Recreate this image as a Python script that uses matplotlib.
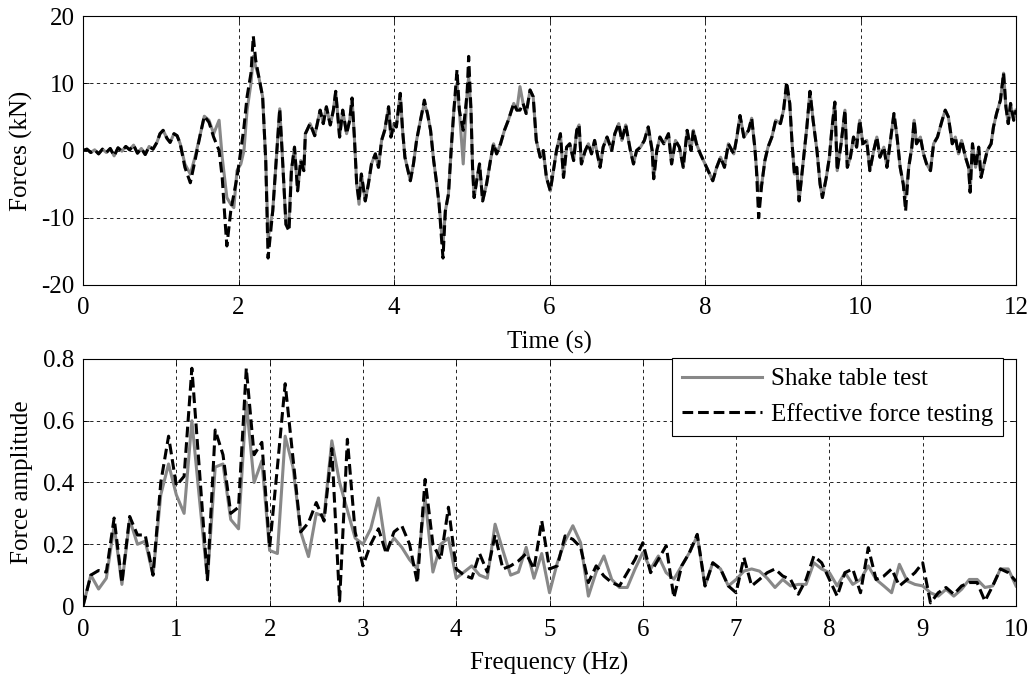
import numpy as np
import matplotlib
matplotlib.use('Agg')
import matplotlib.pyplot as plt

# time history (s, kN)
t_top = [0.00, 0.05, 0.10, 0.15, 0.20, 0.25, 0.30, 0.35, 0.40, 0.45, 0.50, 0.55, 0.60, 0.65, 0.70, 0.75, 0.80, 0.85, 0.90, 0.95,
         0.99, 1.03, 1.08, 1.12, 1.17, 1.21, 1.25, 1.31, 1.38, 1.44, 1.51, 1.56, 1.62, 1.68, 1.75, 1.79, 1.83, 1.85, 1.90, 1.94,
         1.98, 2.03, 2.07, 2.11, 2.16, 2.19, 2.22, 2.26, 2.31, 2.35, 2.38, 2.44, 2.50, 2.53, 2.56, 2.61, 2.65, 2.68, 2.72, 2.76,
         2.80, 2.84, 2.86, 2.92, 2.98, 3.05, 3.09, 3.13, 3.18, 3.22, 3.25, 3.30, 3.34, 3.39, 3.43, 3.46, 3.49, 3.52, 3.55, 3.58,
         3.63, 3.67, 3.71, 3.76, 3.80, 3.84, 3.88, 3.93, 3.96, 4.00, 4.03, 4.08, 4.11, 4.14, 4.17, 4.21, 4.25, 4.29, 4.34, 4.39,
         4.43, 4.47, 4.51, 4.55, 4.58, 4.61, 4.63, 4.66, 4.70, 4.74, 4.77, 4.81, 4.84, 4.89, 4.94, 4.96, 4.99, 5.01, 5.03, 5.07,
         5.10, 5.14, 5.19, 5.24, 5.28, 5.32, 5.37, 5.42, 5.47, 5.54, 5.58, 5.62, 5.66, 5.70, 5.75, 5.79, 5.83, 5.88, 5.92, 5.96,
         6.01, 6.05, 6.09, 6.14, 6.18, 6.22, 6.26, 6.31, 6.35, 6.38, 6.41, 6.46, 6.50, 6.54, 6.58, 6.65, 6.69, 6.74, 6.80, 6.84,
         6.89, 6.93, 6.98, 7.04, 7.08, 7.12, 7.17, 7.22, 7.27, 7.32, 7.34, 7.38, 7.42, 7.47, 7.53, 7.57, 7.62, 7.67, 7.72, 7.77,
         7.82, 7.85, 7.89, 7.94, 8.00, 8.04, 8.10, 8.15, 8.20, 8.25, 8.30, 8.37, 8.41, 8.45, 8.50, 8.56, 8.60, 8.64, 8.66, 8.69,
         8.73, 8.77, 8.81, 8.86, 8.91, 8.97, 9.01, 9.05, 9.09, 9.12, 9.15, 9.18, 9.21, 9.26, 9.31, 9.35, 9.39, 9.44, 9.48, 9.51,
         9.56, 9.60, 9.63, 9.67, 9.70, 9.75, 9.80, 9.83, 9.87, 9.91, 9.95, 9.99, 10.03, 10.08, 10.12, 10.17, 10.21, 10.25, 10.30, 10.34,
         10.38, 10.43, 10.47, 10.51, 10.55, 10.58, 10.62, 10.66, 10.69, 10.72, 10.77, 10.81, 10.85, 10.90, 10.94, 10.99, 11.05, 11.09, 11.13, 11.18,
         11.22, 11.26, 11.30, 11.35, 11.39, 11.41, 11.44, 11.48, 11.52, 11.55, 11.59, 11.63, 11.68, 11.71, 11.75, 11.80, 11.84, 11.87, 11.90, 11.93,
         11.97, 12.00]

f_eft = [0.0, 0.2, -0.3, 0.1, -0.5, 0.2, -0.3, 0.3, -0.8, 0.4, -0.1, 0.6, 0.1, 0.8, -0.4, 0.3, -0.6, 0.6, 0.2, 1.2,
         2.5, 3.0, 1.8, 1.2, 2.5, 2.2, 1.0, -2.5, -4.8, -1.5, 2.5, 5.1, 4.2, 2.0, 0.0, -4.0, -11.0, -14.2, -9.0, -6.5,
         -4.0, 0.0, 3.5, 8.0, 11.5, 17.0, 13.5, 11.0, 8.0, -1.5, -16.0, -9.0, 1.0, 6.2, 0.0, -11.0, -12.0, -3.0, 0.5, -6.0,
         -1.5, -3.0, 2.5, 4.0, 2.2, 6.0, 4.0, 6.5, 3.8, 6.0, 8.8, 2.0, 6.0, 2.5, 4.5, 7.8, 2.0, -5.0, -7.5, -3.5,
         -7.5, -5.0, -2.0, -0.5, -2.5, 1.5, 3.0, 6.5, 2.0, 4.0, 3.5, 8.5, 3.0, -1.0, -2.5, -4.5, -2.0, 1.5, 4.5, 7.5,
         5.5, 3.0, -1.5, -5.0, -8.0, -13.0, -16.0, -9.0, -6.5, 1.0, 6.0, 12.0, 6.0, 3.0, 8.5, 14.0, 6.0, -2.5, -7.0, -4.0,
         -2.0, -7.5, -5.0, -1.5, 1.0, -0.5, 1.0, 3.0, 4.5, 7.0, 6.0, 6.0, 7.0, 5.5, 9.0, 8.0, 1.5, -1.0, 0.0, -4.0,
         -6.0, -3.0, 0.0, 2.5, -4.0, 0.5, 1.0, -1.5, 3.0, 3.8, -2.0, 0.0, 1.0, -0.5, 1.5, -2.5, 0.5, 2.0, 0.0, 2.5,
         4.0, 1.5, 3.8, 0.0, -2.0, 0.0, 0.5, 1.5, 3.5, 0.0, -4.2, 0.0, 2.0, 1.0, 2.5, -2.0, 1.5, 0.5, -2.5, 3.0,
         0.0, 3.0, 1.0, -0.5, -2.0, -3.0, -4.5, -2.5, -1.0, -2.5, 1.0, -0.5, 2.0, 5.2, 2.0, 3.0, 4.8, 0.5, -2.5, -10.0,
         -5.0, -1.5, 0.5, 2.0, 4.5, 4.0, 6.0, 10.2, 7.0, 1.0, -3.5, -2.5, -7.5, -2.0, 3.5, 8.8, 4.5, 0.0, -5.0, -7.0,
         -4.0, -1.0, 3.0, 7.2, -3.0, 1.0, 6.0, -2.5, -1.0, 2.0, 0.5, 4.5, 1.0, 1.5, -3.0, 0.0, 2.0, -1.0, 0.5, -2.5,
         1.0, 5.5, 2.0, -2.5, -5.0, -9.0, -2.5, 0.5, 4.5, 1.0, 2.0, -0.5, -2.0, -3.0, 1.0, 2.0, 4.5, 6.0, 5.0, 1.0,
         2.0, -0.5, 1.5, -1.0, -2.5, -6.2, 1.0, -2.5, 0.5, -4.0, -2.0, 0.0, 1.0, 3.5, 5.5, 7.5, 11.5, 6.5, 4.0, 7.0,
         4.5, 6.0]

f_stt = [0.0, 0.2, -0.3, 0.1, -0.5, 0.2, -0.3, 0.3, -0.8, 0.4, -0.1, 0.6, 0.1, 0.8, -0.4, 0.3, -0.6, 0.6, 0.2, 1.2,
         2.5, 3.0, 1.8, 1.2, 2.5, 2.2, 1.0, -2.0, -3.5, -1.0, 2.5, 5.1, 4.5, 2.5, 4.5, -1.0, -5.0, -7.0, -8.0, -8.5,
         -3.0, -2.0, 0.0, 6.0, 10.0, 14.0, 12.5, 11.0, 8.0, -1.5, -13.0, -9.0, 1.0, 6.2, 0.0, -11.0, -10.0, -3.0, 0.5, -6.0,
         -1.5, -3.0, 2.5, 4.0, 2.2, 6.0, 4.0, 6.5, 3.8, 6.0, 8.8, 2.0, 6.0, 2.5, 4.5, 7.8, 2.0, -5.0, -8.0, -3.5,
         -7.5, -5.0, -2.0, -0.5, -2.5, 1.5, 3.0, 6.5, 2.0, 4.0, 3.5, 8.5, 3.0, -1.0, -2.5, -4.5, -2.0, 1.5, 4.5, 7.0,
         5.5, 3.0, -1.5, -5.0, -8.0, -12.0, -14.0, -9.0, -6.5, 1.0, 6.0, 10.0, 6.0, -2.0, 8.5, 11.0, 6.0, -2.5, -7.0, -4.0,
         -2.0, -7.5, -5.0, -1.5, 1.0, -0.5, 1.0, 3.0, 4.5, 7.0, 6.0, 9.5, 7.0, 5.5, 9.0, 8.0, 1.5, -1.0, 0.0, -4.0,
         -6.0, -3.0, 0.0, 2.5, -4.0, 0.5, 1.0, -1.5, 3.0, 3.8, -2.0, 0.0, 1.0, -0.5, 1.5, -2.5, 0.5, 2.0, 0.0, 2.5,
         4.0, 1.5, 3.8, 0.0, -2.0, 0.0, 0.5, 1.5, 3.5, 0.0, -4.2, 0.0, 2.0, 1.0, 2.5, -2.0, 1.5, 0.5, -2.5, 3.0,
         0.0, 3.0, 1.0, -0.5, -2.0, -3.0, -4.5, -2.5, -1.0, -2.5, 1.0, -0.5, 2.0, 5.2, 2.0, 3.0, 4.8, 0.5, -2.5, -6.0,
         -5.0, -1.5, 0.5, 2.0, 4.5, 4.0, 6.0, 9.5, 7.0, 1.0, -3.5, -2.5, -7.5, -2.0, 3.5, 8.8, 4.5, 0.0, -5.0, -7.0,
         -4.0, -1.0, 3.0, 7.2, -3.0, 1.0, 6.0, -2.5, -1.0, 2.0, 0.5, 4.5, 1.0, 1.5, -3.0, 0.0, 2.0, -1.0, 0.5, -2.5,
         1.0, 5.5, 2.0, -2.5, -5.0, -7.0, -2.5, 0.5, 4.5, 1.0, 2.0, -0.5, -2.0, -3.0, 1.0, 2.0, 4.5, 6.0, 5.0, 1.0,
         2.0, -0.5, 1.5, -1.0, -2.5, -6.2, 1.0, -2.5, 0.5, -4.0, -2.0, 0.0, 1.0, 3.5, 5.5, 7.5, 11.5, 6.5, 4.0, 7.0,
         4.5, 6.0]

# Fourier amplitude spectrum, 1/12 Hz resolution
freq = np.arange(121) / 12.0
amp_eft = [0.00, 0.10, 0.115, 0.11, 0.285, 0.075, 0.29, 0.23, 0.23, 0.10,
           0.40, 0.55, 0.39, 0.42, 0.77, 0.43, 0.085, 0.57, 0.49, 0.30,
           0.32, 0.77, 0.49, 0.53, 0.19, 0.45, 0.72, 0.48, 0.24, 0.27,
           0.335, 0.275, 0.51, 0.016, 0.54, 0.24, 0.13, 0.20, 0.25, 0.17,
           0.24, 0.26, 0.20, 0.075, 0.41, 0.20, 0.15, 0.32, 0.12, 0.10,
           0.09, 0.17, 0.11, 0.23, 0.12, 0.13, 0.146, 0.17, 0.12, 0.276,
           0.12, 0.13, 0.227, 0.216, 0.19, 0.076, 0.13, 0.097, 0.076, 0.065,
           0.108, 0.151, 0.205, 0.108, 0.151, 0.195, 0.027, 0.13, 0.173, 0.232,
           0.065, 0.14, 0.12, 0.065, 0.043, 0.157, 0.065, 0.086, 0.108, 0.12,
           0.097, 0.086, 0.038, 0.086, 0.162, 0.14, 0.086, 0.032, 0.108, 0.12,
           0.043, 0.189, 0.086, 0.097, 0.12, 0.065, 0.086, 0.108, 0.14, 0.01,
           0.043, 0.06, 0.038, 0.065, 0.076, 0.076, 0.016, 0.065, 0.12, 0.108,
           0.08]
amp_stt = [0.00, 0.10, 0.055, 0.09, 0.26, 0.07, 0.28, 0.20, 0.21, 0.10,
           0.36, 0.46, 0.36, 0.30, 0.60, 0.34, 0.085, 0.45, 0.46, 0.28,
           0.25, 0.66, 0.40, 0.47, 0.18, 0.17, 0.55, 0.45, 0.24, 0.16,
           0.30, 0.29, 0.535, 0.40, 0.31, 0.22, 0.20, 0.25, 0.35, 0.18,
           0.22, 0.19, 0.15, 0.12, 0.35, 0.11, 0.20, 0.22, 0.09, 0.11,
           0.13, 0.10, 0.09, 0.265, 0.18, 0.10, 0.11, 0.19, 0.09, 0.17,
           0.043, 0.14, 0.21, 0.26, 0.205, 0.032, 0.11, 0.162, 0.086, 0.06,
           0.06, 0.12, 0.173, 0.12, 0.162, 0.108, 0.087, 0.13, 0.173, 0.227,
           0.065, 0.14, 0.12, 0.065, 0.086, 0.113, 0.12, 0.113, 0.09, 0.06,
           0.086, 0.065, 0.07, 0.07, 0.14, 0.12, 0.108, 0.065, 0.108, 0.07,
           0.086, 0.13, 0.086, 0.065, 0.043, 0.135, 0.081, 0.07, 0.065, 0.043,
           0.032, 0.054, 0.032, 0.054, 0.086, 0.086, 0.06, 0.065, 0.12, 0.12,
           0.065]

plt.rcParams['font.family'] = ['Liberation Serif', 'DejaVu Serif']
plt.rcParams['font.size'] = 18
plt.rcParams['axes.unicode_minus'] = False

fig = plt.figure(figsize=(10.34, 6.79), dpi=100)
ax1 = fig.add_axes([0.0803, 0.5803, 0.9023, 0.3961])
ax2 = fig.add_axes([0.0803, 0.1075, 0.9023, 0.3638])

gray = '#888888'
lw = 2.2
dash = (3.5, 1.6)

ax1.plot(t_top, f_stt, color=gray, lw=lw)
ax1.plot(t_top, f_eft, color='black', lw=lw, dashes=dash)
ax1.set_xlim(0, 12)
ax1.set_ylim(-20, 20)
ax1.set_xticks(np.arange(0, 13, 2))
ax1.set_yticks([-20, -10, 0, 10, 20])
ax1.set_xlabel('Time (s)', labelpad=8)
ax1.set_ylabel('Forces (kN)')

ax2.plot(freq, amp_stt, color=gray, lw=lw, label='Shake table test')
ax2.plot(freq, amp_eft, color='black', lw=lw, dashes=dash, label='Effective force testing')
ax2.set_xlim(0, 10)
ax2.set_ylim(0, 0.8)
ax2.set_xticks(np.arange(0, 11, 1))
ax2.set_yticks([0, 0.2, 0.4, 0.6, 0.8])
ax2.set_yticklabels(['0', '0.2', '0.4', '0.6', '0.8'])
ax2.set_xlabel('Frequency (Hz)', labelpad=8)
ax2.set_ylabel('Force amplitude')
leg = ax2.legend(loc='upper right', bbox_to_anchor=(1 - 13 / 933, 1.005), frameon=True, fancybox=False,
                 edgecolor='black', framealpha=1, handlelength=3.2, borderpad=0.4,
                 labelspacing=0.5, handletextpad=0.36, borderaxespad=0.0)
leg.get_frame().set_linewidth(0.8)

for ax in (ax1, ax2):
    ax.grid(True, color='black', linestyle=(0, (4, 4)), linewidth=0.6)
    ax.tick_params(direction='in', top=True, right=True, length=4, width=0.6, pad=6)
    ax.tick_params(axis='x', pad=9)
    ax.yaxis.set_label_coords(-0.054, 0.5)
    for s in ax.spines.values():
        s.set_linewidth(0.8)

fig.savefig('out.png', dpi=100)
